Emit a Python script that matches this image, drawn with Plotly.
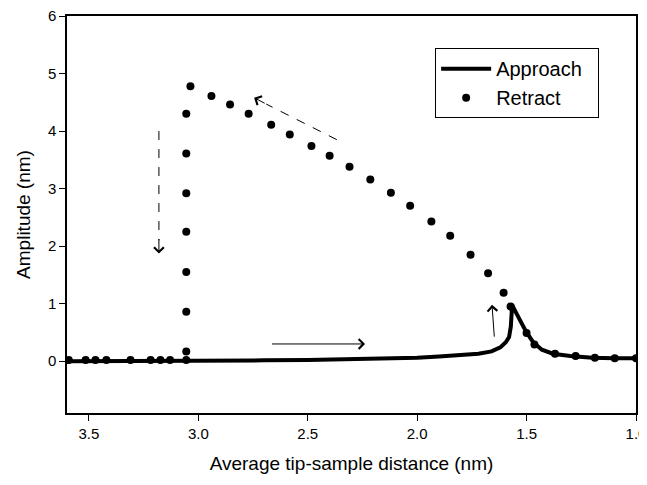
import plotly.graph_objects as go

# Approach curve (thick solid line)
approach_x = [3.6, 3.3, 3.0, 2.7, 2.5, 2.2, 2.0, 1.9, 1.8, 1.72, 1.66, 1.62, 1.595, 1.58, 1.572, 1.566, 1.56, 1.54, 1.52, 1.5, 1.47, 1.43, 1.38, 1.3, 1.2, 1.1, 1.0]
approach_y = [0.0, 0.0, 0.01, 0.015, 0.02, 0.04, 0.06, 0.08, 0.1, 0.13, 0.17, 0.24, 0.33, 0.42, 0.6, 0.98, 0.93, 0.8, 0.64, 0.5, 0.33, 0.2, 0.13, 0.09, 0.06, 0.05, 0.05]

# Retract points (dots)
retract_x = [3.592, 3.515, 3.47, 3.42, 3.31, 3.218, 3.173, 3.129, 3.055,
             3.055, 3.055, 3.055, 3.055, 3.055, 3.055, 3.055,
             3.036, 2.94, 2.855, 2.77, 2.667, 2.582, 2.483, 2.40, 2.309, 2.214,
             2.12, 2.032, 1.935, 1.849, 1.756, 1.676, 1.605, 1.573,
             1.50, 1.464, 1.37, 1.276, 1.188, 1.097, 1.0]
retract_y = [0.02, 0.02, 0.02, 0.02, 0.02, 0.02, 0.02, 0.02, 0.02,
             0.17, 0.86, 1.55, 2.25, 2.92, 3.61, 4.30,
             4.78, 4.61, 4.46, 4.30, 4.11, 3.94, 3.74, 3.57, 3.38, 3.16,
             2.93, 2.70, 2.43, 2.18, 1.85, 1.53, 1.19, 0.95,
             0.49, 0.29, 0.13, 0.09, 0.06, 0.05, 0.05]

x_ticks = [3.5, 3.0, 2.5, 2.0, 1.5, 1.0]
x_tick_labels = ["3.5", "3.0", "2.5", "2.0", "1.5", "1.0"]
y_ticks = [0, 1, 2, 3, 4, 5, 6]
y_tick_labels = ["0", "1", "2", "3", "4", "5", "6"]

FONT = "Liberation Sans, Arial, sans-serif"

fig = go.Figure()
fig.add_trace(go.Scatter(x=approach_x, y=approach_y, mode="lines", name="Approach  ",
                         line=dict(color="black", width=4)))
fig.add_trace(go.Scatter(x=retract_x, y=retract_y, mode="markers", name="Retract",
                         marker=dict(color="black", size=8)))

# Dashed shafts
fig.add_shape(type="line", x0=3.18, y0=4.0, x1=3.18, y1=2.1, xref="x", yref="y",
              line=dict(color="black", width=1, dash="dash"))
fig.add_shape(type="line", x0=2.367, y0=3.85, x1=2.69, y1=4.47, xref="x", yref="y",
              line=dict(color="black", width=1, dash="dash"))

arrow = dict(showarrow=True, arrowhead=4, arrowsize=1.9, arrowwidth=1, arrowcolor="black",
             axref="x", ayref="y", xref="x", yref="y", text="")
fig.add_annotation(x=3.18, y=1.87, ax=3.18, ay=2.15, **arrow)
fig.add_annotation(x=2.745, y=4.58, ax=2.69, ay=4.47, **arrow)
fig.add_annotation(x=2.238, y=0.30, ax=2.67, ay=0.30, **arrow)
fig.add_annotation(x=1.658, y=0.98, ax=1.647, ay=0.40, **arrow)

axis_common = dict(showline=True, linecolor="black", linewidth=1.5, mirror=True,
                   ticks="outside", ticklen=6, tickcolor="black", tickwidth=1,
                   showgrid=False, zeroline=False, automargin=False,
                   ticklabeloverflow="allow",
                   tickfont=dict(family=FONT, size=15, color="black"))

fig.update_xaxes(range=[3.6, 1.0], tickvals=x_ticks, ticktext=x_tick_labels,
                 title=dict(text="Average tip-sample distance (nm)",
                            font=dict(family=FONT, size=19, color="black"), standoff=16),
                 **axis_common)
fig.update_yaxes(range=[-0.9, 6.0], tickvals=y_ticks, ticktext=y_tick_labels,
                 title=dict(text="Amplitude (nm)",
                            font=dict(family=FONT, size=19, color="black"), standoff=12),
                 **axis_common)

# page body has an 8px default margin, so the figure is sized to fit inside it
fig.update_layout(
    width=639, height=477,
    margin=dict(l=59, r=11, t=8, b=72),
    paper_bgcolor="white", plot_bgcolor="white",
    showlegend=True,
    legend=dict(x=0.647, y=0.919, xanchor="left", yanchor="top",
                bordercolor="black", borderwidth=1, bgcolor="white",
                font=dict(family=FONT, size=20, color="black"),
                itemwidth=50, tracegroupgap=0),
)

fig.write_html("out.html")
